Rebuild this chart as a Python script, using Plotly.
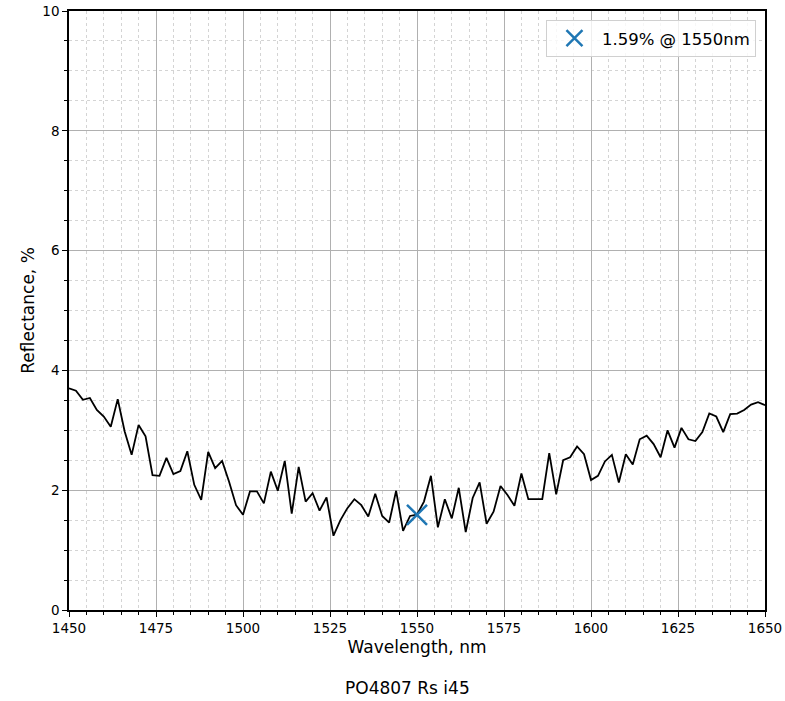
import plotly.graph_objects as go

wavelength = list(range(1450, 1652, 2))
reflectance = [
    3.70, 3.66, 3.51, 3.54, 3.34, 3.23, 3.06, 3.52, 2.98, 2.59,
    3.09, 2.90, 2.25, 2.24, 2.54, 2.27, 2.32, 2.65, 2.09, 1.84,
    2.64, 2.37, 2.49, 2.14, 1.75, 1.59, 1.98, 1.98, 1.78, 2.31,
    1.99, 2.49, 1.61, 2.39, 1.81, 1.95, 1.66, 1.88, 1.24, 1.50,
    1.70, 1.85, 1.75, 1.56, 1.94, 1.57, 1.46, 1.99, 1.32, 1.57,
    1.59, 1.81, 2.24, 1.38, 1.85, 1.53, 2.04, 1.30, 1.87, 2.13,
    1.44, 1.64, 2.07, 1.92, 1.74, 2.28, 1.85, 1.85, 1.85, 2.62,
    1.93, 2.50, 2.55, 2.73, 2.60, 2.17, 2.24, 2.48, 2.59, 2.13,
    2.60, 2.43, 2.85, 2.91, 2.77, 2.55, 3.00, 2.71, 3.04, 2.85,
    2.82, 2.97, 3.28, 3.23, 2.97, 3.27, 3.28, 3.34, 3.43, 3.47,
    3.42,
]
marker_x = [1550]
marker_y = [1.59]
marker_label = "1.59% @ 1550nm"
title_text = "PO4807 Rs i45"
x_label = "Wavelength, nm"
y_label = "Reflectance, %"

FONT = "DejaVu Sans"

fig = go.Figure()
fig.add_trace(go.Scatter(
    x=wavelength, y=reflectance, mode="lines",
    line=dict(color="black", width=1.8), showlegend=False, hoverinfo="skip",
))
fig.add_trace(go.Scatter(
    x=marker_x, y=marker_y, mode="markers", name=marker_label,
    marker=dict(symbol="x-thin", size=20, color="#1f77b4",
                line=dict(color="#1f77b4", width=2.5)),
))

grid_major = "#b0b0b0"
grid_minor = "#d4d4d4"

fig.update_xaxes(
    range=[1450, 1650], tickvals=list(range(1450, 1651, 25)),
    automargin=False,
    showline=True, linecolor="black", linewidth=1.5, mirror=True,
    ticks="outside", ticklen=5, tickcolor="black", tickwidth=1,
    showgrid=True, gridcolor=grid_major, gridwidth=1,
    zeroline=False,
    minor=dict(dtick=5, tick0=1450, showgrid=True, gridcolor=grid_minor,
               griddash="dot", gridwidth=1, ticks="outside", ticklen=3,
               tickcolor="black"),
    tickfont=dict(family=FONT, size=13.5, color="black"),
    title=dict(text=x_label, font=dict(family=FONT, size=17, color="black"), standoff=6),
)
fig.update_yaxes(
    range=[0, 10], tickvals=list(range(0, 11, 2)),
    automargin=False,
    showline=True, linecolor="black", linewidth=1.5, mirror=True,
    ticks="outside", ticklen=5, tickcolor="black", tickwidth=1,
    showgrid=True, gridcolor=grid_major, gridwidth=1,
    zeroline=False,
    minor=dict(dtick=0.5, tick0=0, showgrid=True, gridcolor=grid_minor,
               griddash="dot", gridwidth=1, ticks="outside", ticklen=3,
               tickcolor="black"),
    tickfont=dict(family=FONT, size=13.5, color="black"),
    title=dict(text=y_label, font=dict(family=FONT, size=17, color="black"), standoff=3),
)

fig.update_layout(
    width=785, height=701,
    margin=dict(l=69, r=20, t=11, b=91),
    plot_bgcolor="white", paper_bgcolor="white",
    font=dict(family=FONT, color="black"),
    legend=dict(
        x=0.987, y=0.985, xanchor="right", yanchor="top",
        itemwidth=45,
        bgcolor="rgba(255,255,255,0.8)", bordercolor="#d0d0d0", borderwidth=1,
        font=dict(family=FONT, size=16.5, color="black"),
    ),
    annotations=[dict(
        text=title_text, xref="paper", yref="paper", x=0.487, y=-0.13,
        xanchor="center", yanchor="middle", showarrow=False,
        font=dict(family=FONT, size=17, color="black"),
    )],
)

fig.write_html(
    "out.html",
    config={"displayModeBar": False},
    post_script="document.body.style.margin='0';document.body.style.overflow='hidden';",
)
